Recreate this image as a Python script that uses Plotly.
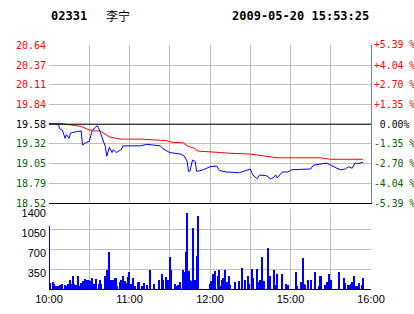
import plotly.graph_objects as go

# ---------------- data ----------------
stock_code = "02331"
stock_name = "李宁"
timestamp = "2009-05-20 15:53:25"
prev_close = 19.58

# trading minutes from 10:00 (morning 10:00-12:30, afternoon 14:30-16:00)
price_minutes = [0, 7, 8, 10, 12, 13, 15, 16, 18, 20, 24, 25, 27, 30, 32, 34, 36, 37, 39,
                 42, 43, 44, 45, 47, 48, 50, 54, 55, 58, 68, 73, 83, 85, 90, 98, 101, 103,
                 104, 105, 107, 109, 110, 111, 115, 120, 125, 127, 132, 142, 147, 150, 152,
                 155, 157, 162, 165, 167, 169, 170, 174, 178, 181, 187, 195, 197, 205, 207,
                 210, 215, 217, 221, 223, 226, 228, 230, 232, 234]
price_values = [19.59, 19.58, 19.52, 19.50, 19.39, 19.44, 19.39, 19.46, 19.47, 19.48, 19.49,
                19.30, 19.33, 19.35, 19.48, 19.53, 19.56, 19.53, 19.44, 19.28, 19.15, 19.21,
                19.27, 19.20, 19.24, 19.20, 19.24, 19.29, 19.29, 19.29, 19.31, 19.29, 19.25,
                19.20, 19.18, 19.15, 19.08, 18.95, 18.95, 19.10, 19.08, 18.95, 18.95, 18.97,
                19.01, 19.02, 18.96, 18.94, 18.93, 18.96, 18.98, 18.90, 18.85, 18.90, 18.89,
                18.85, 18.86, 18.90, 18.86, 18.94, 18.94, 18.97, 18.97, 18.98, 19.03, 19.05,
                19.06, 19.03, 18.98, 18.97, 18.98, 19.01, 18.99, 19.06, 19.05, 19.06, 19.07]

avg_minutes = [0, 9, 16, 24, 29, 33, 38, 42, 45, 53, 68, 88, 91, 100, 103, 108, 111, 128,
               135, 150, 160, 170, 202, 210, 234]
avg_values = [19.59, 19.59, 19.57, 19.55, 19.51, 19.49, 19.49, 19.45, 19.41, 19.38, 19.38,
              19.36, 19.34, 19.33, 19.29, 19.26, 19.22, 19.20, 19.19, 19.18, 19.15, 19.13,
              19.13, 19.11, 19.11]

vol_minutes = [0, 1, 3, 4, 5, 7, 8, 9, 10, 12, 13, 14, 16, 17, 18, 19, 20, 22, 23, 24, 25,
               26, 27, 28, 30, 31, 32, 33, 34, 35, 37, 38, 39, 42, 43, 44, 45, 46, 47, 48,
               49, 50, 51, 53, 54, 55, 57, 58, 59, 60, 61, 63, 64, 66, 67, 69, 71, 73, 75,
               78, 82, 84, 85, 87, 89, 90, 91, 94, 95, 96, 98, 100, 101, 102, 103, 104, 105,
               106, 107, 109, 110, 111,
               120, 121, 122, 123, 124, 126, 127, 128, 129, 130, 131, 133, 134, 135, 139,
               142, 144, 146, 148, 149, 151, 152, 155, 156, 157, 159, 160, 163, 165, 168,
               169, 170, 174, 177, 178, 184, 185, 188, 189, 190, 191, 193, 195, 198, 201,
               202, 203, 206, 207, 209, 210, 216, 220, 221, 223, 224, 225, 226, 227, 229,
               230, 231, 233, 234]
vol_values = [1108, 105, 117, 76, 52, 52, 58, 64, 76, 70, 52, 76, 146, 76, 222, 87, 58, 227,
              52, 105, 128, 47, 175, 146, 163, 134, 192, 76, 76, 175, 76, 163, 76, 216, 321,
              47, 647, 146, 47, 163, 181, 192, 47, 117, 146, 233, 128, 99, 204, 292, 87, 181,
              47, 117, 117, 47, 99, 58, 321, 76, 157, 251, 146, 204, 163, 566, 321, 76, 47,
              64, 117, 338, 297, 653, 1335, 309, 146, 128, 1073, 146, 571, 1271,
              87, 128, 251, 41, 309, 216, 321, 41, 146, 192, 338, 117, 233, 58, 117, 128,
              373, 157, 216, 87, 356, 187, 356, 117, 146, 566, 128, 723, 216, 338, 58, 268,
              251, 76, 58, 286, 41, 117, 548, 76, 58, 163, 163, 286, 41, 216, 233, 58, 117,
              268, 146, 303, 198, 99, 58, 70, 87, 111, 233, 47, 41, 99, 58, 198]

price_ticks = [18.52, 18.79, 19.05, 19.32, 19.58, 19.84, 20.11, 20.37, 20.64]
pct_labels = ["-5.39 %", "-4.04 %", "-2.70 %", "-1.35 %", "\u00a00.00%",
              "+1.35 %", "+2.70 %", "+4.04 %", "+5.39 %"]
time_ticks = [0, 30, 60, 90, 120, 150, 180, 210, 240]
time_labels = ["10:00", "", "11:00", "", "12:00", "", "15:00", "", "16:00"]
vol_ticks = [350, 700, 1050, 1400]

# ---------------- styling ----------------
RED = "#ff0000"
GREEN = "#006400"
BLUE = "#0000ff"
GRID = "#c0c0c0"
MONO = "DejaVu Sans Mono"
SANS = "Liberation Sans, Arial, sans-serif"


def colored(label, value):
    if abs(value - prev_close) < 1e-9:
        c = "#000000"
    elif value > prev_close:
        c = RED
    else:
        c = GREEN
    return f"<span style='color:{c}'>{label}</span>"


left_text = [colored(f"{v:.2f}", v) for v in price_ticks]
right_text = [colored(t, v) for t, v in zip(pct_labels, price_ticks)]

fig = go.Figure()
fig.add_trace(go.Scatter(x=price_minutes, y=price_values, mode="lines",
                         line=dict(color=BLUE, width=1), xaxis="x", yaxis="y",
                         hoverinfo="skip"))
fig.add_trace(go.Scatter(x=avg_minutes, y=avg_values, mode="lines",
                         line=dict(color=RED, width=1), xaxis="x", yaxis="y",
                         hoverinfo="skip"))
fig.add_trace(go.Scatter(x=[price_minutes[0]], y=[prev_close], mode="lines",
                         line=dict(width=0), xaxis="x", yaxis="y3",
                         hoverinfo="skip", showlegend=False))
fig.add_trace(go.Bar(x=vol_minutes, y=vol_values, width=0.8,
                     marker=dict(color=BLUE, line=dict(width=0)),
                     xaxis="x2", yaxis="y2", hoverinfo="skip"))

axis_common = dict(range=[0, 240], tickvals=time_ticks, showgrid=True, gridcolor=GRID,
                   gridwidth=1, zeroline=False, ticks="", fixedrange=True,
                   automargin=False)

fig.update_layout(
    width=414, height=314,
    margin=dict(l=49, r=43, t=45, b=25, pad=0),
    paper_bgcolor="white", plot_bgcolor="white",
    showlegend=False,
    bargap=0,
    xaxis=dict(**axis_common, domain=[0, 1], anchor="y", showticklabels=False,
               showline=True, linecolor="#000000", linewidth=1),
    yaxis=dict(domain=[0.351, 1], range=[price_ticks[0], price_ticks[-1]],
               tickvals=price_ticks, ticktext=left_text, showgrid=True, gridcolor=GRID,
               zeroline=False, ticks="", ticklabelstandoff=2, automargin=False,
               tickfont=dict(family=MONO, size=10), showline=False),
    yaxis3=dict(overlaying="y", side="right", anchor="x",
                range=[price_ticks[0], price_ticks[-1]],
                tickvals=price_ticks, ticktext=right_text, showgrid=False,
                zeroline=False, ticks="", ticklabelstandoff=0, automargin=False,
                tickfont=dict(family=MONO, size=9.8),
                showline=True, linecolor="#808080", linewidth=1),
    xaxis2=dict(**axis_common, domain=[0, 1], anchor="y2", ticktext=time_labels,
                showticklabels=True, showline=True, linecolor="#000000", linewidth=1,
                tickfont=dict(family=SANS, size=11, color="#000000")),
    yaxis2=dict(domain=[0, 0.327], range=[0, vol_ticks[-1]], tickvals=vol_ticks,
                showgrid=True, gridcolor=GRID, zeroline=False, ticks="",
                ticklabelstandoff=2, ticklabelshift=4, automargin=False,
                tickfont=dict(family=SANS, size=11, color="#000000"), showline=False),
    shapes=[dict(type="line", xref="x", yref="y", x0=0, x1=240, y0=prev_close,
                 y1=prev_close, line=dict(color="#000000", width=1))],
    annotations=[
        dict(text=f"<b>{stock_code}</b>", xref="paper", yref="paper", x=0.0, y=1.119,
             xanchor="left", yanchor="middle", showarrow=False,
             font=dict(family=MONO, size=12, color="#000000")),
        dict(text=stock_name, xref="paper", yref="paper", x=0.172, y=1.119,
             xanchor="left", yanchor="middle", showarrow=False,
             font=dict(family="Noto Sans CJK SC", size=12, color="#000000")),
        dict(text=f"<b>{timestamp}</b>", xref="paper", yref="paper", x=1.0, y=1.119,
             xanchor="right", yanchor="middle", showarrow=False,
             font=dict(family=MONO, size=12, color="#000000")),
    ],
)

fig.write_html("out.html")
